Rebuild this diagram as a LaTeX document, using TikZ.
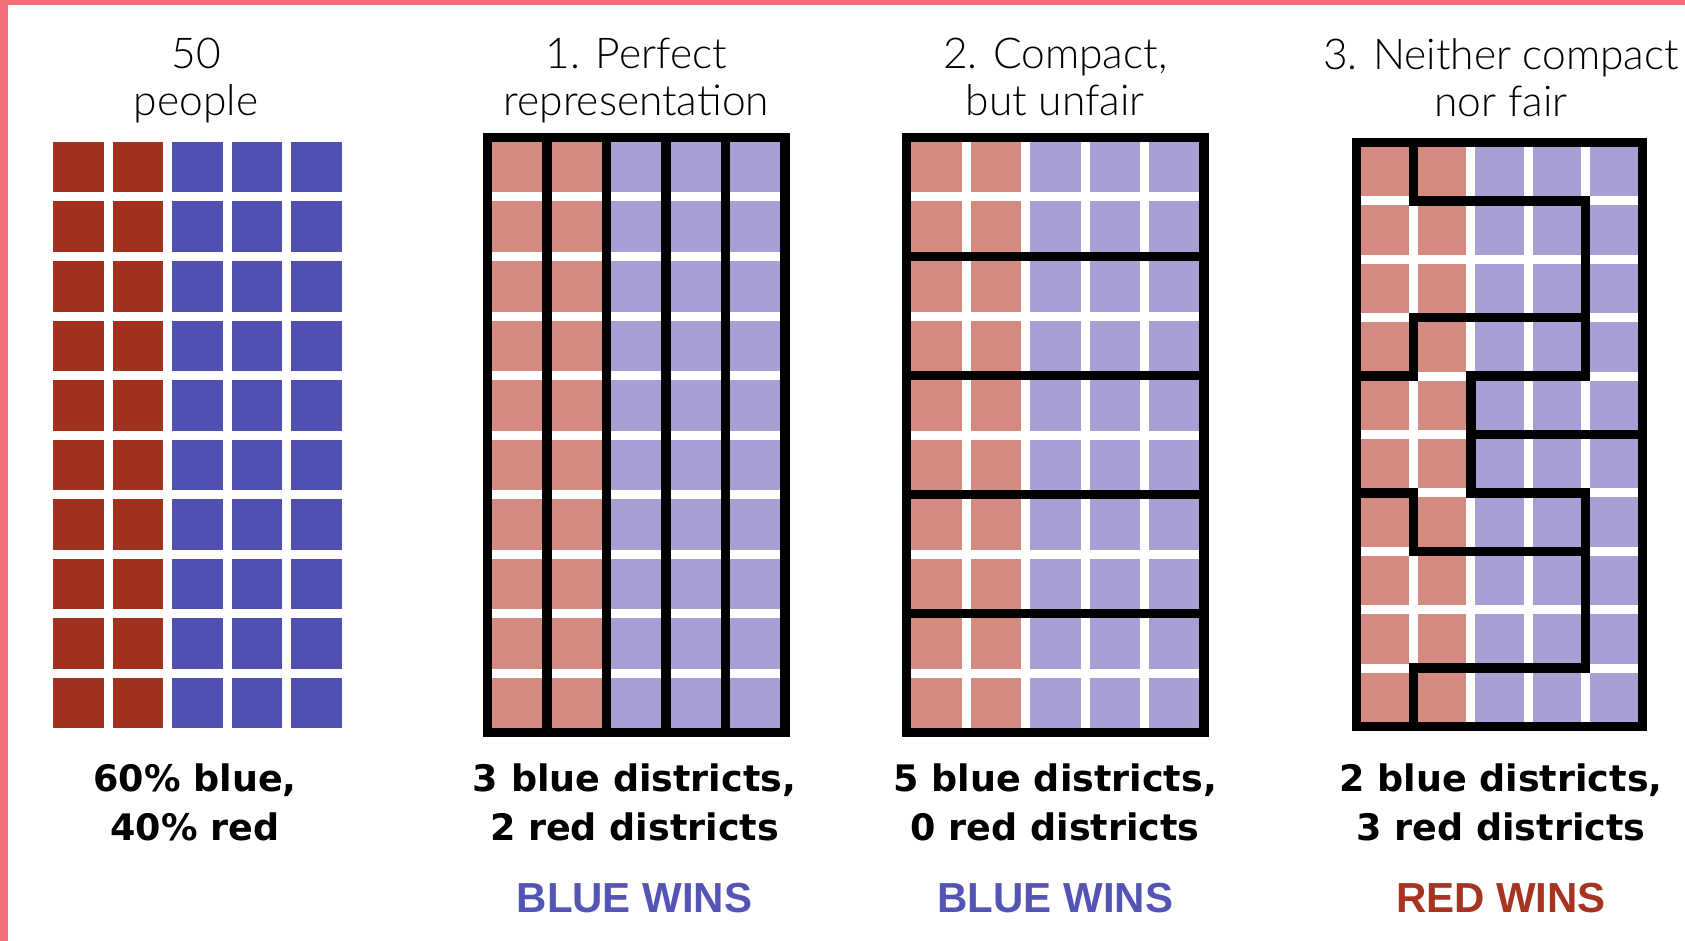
\documentclass[tikz,border=0pt]{standalone}
\usepackage{fontspec}
\setmainfont{Liberation Sans}
\newfontfamily\thinfont{Lato}[UprightFont=* Light]
\newfontfamily\boldfont{DejaVu Sans}[UprightFont=* Bold]
\newfontfamily\winfont{Liberation Sans}[UprightFont=* Bold]
\usepackage{xcolor}
\definecolor{DarkRed}{RGB}{163,49,32}
\definecolor{DarkBlue}{RGB}{80,80,176}
\definecolor{LightRed}{RGB}{212,138,126}
\definecolor{LightBlue}{RGB}{168,160,212}
\definecolor{EdgePink}{RGB}{240,112,120}
\definecolor{WinRed}{RGB}{166,52,32}
\definecolor{WinBlue}{RGB}{84,84,180}
\usetikzlibrary{positioning}

% 5 x 10 people, two red columns then three blue ones
\newcommand{\peoplegrid}[2]{%
  \fill[#1] (0,0) rectangle (2,10);
  \fill[#2] (2,0) rectangle (5,10);
  \foreach \c in {0,...,5} \draw[cellgap] (\c,0) -- (\c,10);
  \foreach \r in {0,...,10} \draw[cellgap] (0,\r) -- (5,\r);
}

\begin{document}
\begin{tikzpicture}[x=1pt, y=-1pt,
    cellgap/.style={white, line width=9pt, line cap=rect},
    districtline/.style={black, line width=9.5pt, line cap=rect, line join=miter},
    toplab/.style={anchor=north, inner sep=0pt, align=center,
              font=\thinfont\fontsize{42.5}{47}\selectfont},
    countlab/.style={anchor=north, inner sep=0pt, align=center,
              font=\boldfont\fontsize{36.5}{48.5}\selectfont},
    winlab/.style={anchor=north, inner sep=0pt, font=\winfont\fontsize{42}{46}\selectfont}
]
    \useasboundingbox (0,0) rectangle (1685,941);
    \fill[white] (0,0) rectangle (1685,941);
    \fill[EdgePink] (0,0) rectangle (8,941);
    \fill[EdgePink] (0,0) rectangle (1685,5);

    % the population
    \begin{scope}[shift={(48.5,137.5)}, x=59.5pt, y=-59.5pt]
        \peoplegrid{DarkRed}{DarkBlue}
    \end{scope}

    % 1. perfect representation
    \begin{scope}[shift={(487.5,137.5)}, x=59.5pt, y=-59.5pt]
        \peoplegrid{LightRed}{LightBlue}
        \draw[districtline] (0,0) rectangle (5,10);
        \foreach \c in {1,...,4} \draw[districtline] (\c,0) -- (\c,10);
    \end{scope}

    % 2. compact, but unfair
    \begin{scope}[shift={(906.5,137.5)}, x=59.5pt, y=-59.5pt]
        \peoplegrid{LightRed}{LightBlue}
        \draw[districtline] (0,0) rectangle (5,10);
        \foreach \r in {2,4,6,8} \draw[districtline] (0,\r) -- (5,\r);
    \end{scope}

    % 3. neither compact nor fair
    \begin{scope}[shift={(1356.5,142.5)}, x=57.2pt, y=-58.4pt]
        \peoplegrid{LightRed}{LightBlue}
        \draw[districtline] (0,0) rectangle (5,10);
        \draw[districtline] (1,0) -- (1,1) -- (4,1) -- (4,4) -- (2,4) -- (2,6)
            -- (4,6) -- (4,9) -- (1,9) -- (1,10);
        \draw[districtline] (0,4) -- (1,4) -- (1,3) -- (4,3);
        \draw[districtline] (2,5) -- (5,5);
        \draw[districtline] (0,6) -- (1,6) -- (1,7) -- (4,7);
    \end{scope}

    \node[toplab] (head0) at (196,38) {50\\people};
    \node[toplab] (head1) at (636.25,38) {1. Perfect\\representation};
    \node[toplab] (head2) at (1055.25,38) {2. Compact,\\but unfair};
    \node[toplab] (head3) at (1501,38) {3. Neither compact\\nor fair};

    \node[countlab] (count0) at (195,764) {60\% blue,\\40\% red};
    \node[countlab] (count1) at (634.5,764) {3 blue districts,\\2 red districts};
    \node[countlab] (count2) at (1055.25,764) {5 blue districts,\\0 red districts};
    \node[countlab] (count3) at (1501,764) {2 blue districts,\\3 red districts};

    \node[winlab, text=WinBlue] (win1) at (634.5,883) {BLUE WINS};
    \node[winlab, text=WinBlue] (win2) at (1055.25,883) {BLUE WINS};
    \node[winlab, text=WinRed] (win3) at (1501,883) {RED WINS};
\end{tikzpicture}
\end{document}
